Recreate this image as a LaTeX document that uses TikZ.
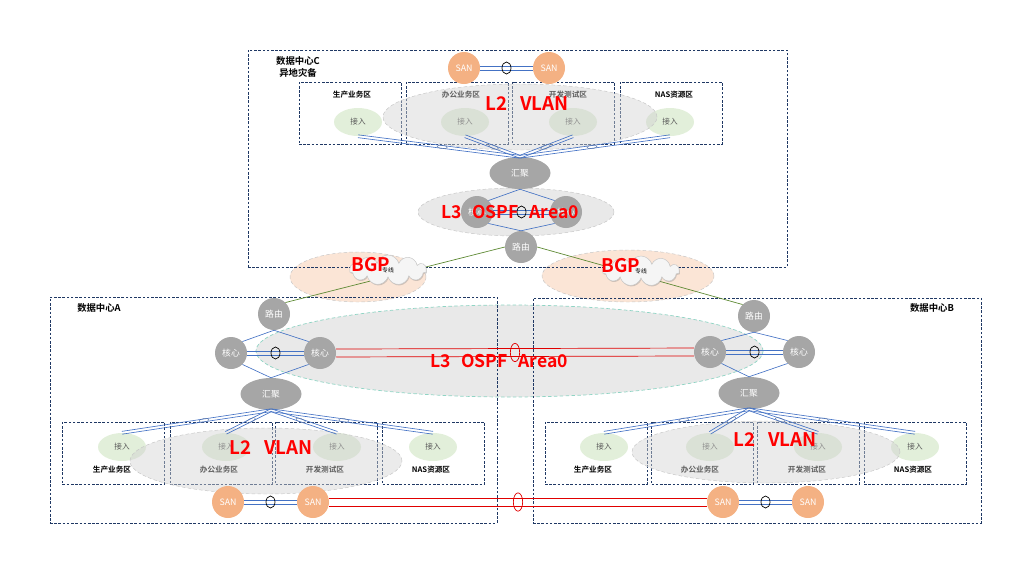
\documentclass[tikz,border=0pt]{standalone}
\usepackage{fontspec}
\setmainfont{Noto Sans CJK SC}[BoldFont={Noto Sans CJK SC Bold}]
\usepackage{xcolor}
\usepackage{tikz}
\usetikzlibrary{shapes.geometric, shapes.symbols, shadows, calc, positioning}

\definecolor{netgray}{HTML}{A6A6A6}
\definecolor{sanorange}{HTML}{F4B183}
\definecolor{accgreen}{HTML}{E2EFDA}
\definecolor{linkblue}{HTML}{4472C4}
\definecolor{boxnavy}{HTML}{1F3864}
\definecolor{bgpfill}{HTML}{FBE5D6}
\definecolor{bgpgreen}{HTML}{5E8A34}
\definecolor{ospfteal}{HTML}{8FD4C4}
\definecolor{wanred}{HTML}{E00000}
\definecolor{acctext}{HTML}{595959}

\tikzset{
    dcbox/.style={
        rectangle,
        draw=boxnavy,
        line width=0.6pt,
        dash pattern=on 2.2pt off 1.4pt,
        inner sep=0pt
    },
    zonebox/.style={
        dcbox,
        minimum width=3.06cm,
        minimum height=1.86cm
    },
    dctitle/.style={
        font=\bfseries\fontsize{8}{10}\selectfont,
        inner sep=0pt
    },
    zonelabel/.style={
        font=\bfseries\fontsize{6.5}{7}\selectfont,
        inner sep=0pt
    },
    netnode/.style={
        circle,
        fill=netgray,
        minimum size=0.96cm,
        inner sep=0pt,
        text=white,
        font=\fontsize{7.5}{8}\selectfont
    },
    aggnode/.style={
        netnode,
        ellipse,
        minimum width=1.83cm,
        minimum height=0.96cm
    },
    sannode/.style={
        netnode,
        fill=sanorange
    },
    accnode/.style={
        ellipse,
        fill=accgreen,
        minimum width=1.44cm,
        minimum height=0.84cm,
        inner sep=0pt,
        text=acctext,
        font=\fontsize{6.5}{7}\selectfont
    },
    bgparea/.style={
        ellipse,
        fill=bgpfill,
        draw=gray!45,
        dash pattern=on 3pt off 2pt,
        inner sep=0pt
    },
    ospfarea/.style={
        ellipse,
        fill=gray!17,
        draw=ospfteal,
        line width=0.6pt,
        dash pattern=on 3pt off 2pt,
        inner sep=0pt
    },
    grayarea/.style={
        ellipse,
        fill=gray!17,
        draw=gray!45,
        dash pattern=on 3pt off 2pt,
        inner sep=0pt
    },
    l2area/.style={
        grayarea,
        fill=gray!35,
        fill opacity=0.45
    },
    wancloud/.style={
        cloud,
        cloud puffs=11,
        cloud ignores aspect,
        fill=gray!8,
        draw=gray!45,
        minimum width=2.31cm,
        minimum height=0.9cm,
        inner sep=0pt,
        drop shadow={shadow xshift=0.6pt, shadow yshift=-0.9pt, opacity=0.35},
        font=\fontsize{5}{5}\selectfont
    },
    link/.style={
        draw=linkblue,
        line width=0.55pt
    },
    wan/.style={
        draw=wanred,
        line width=0.6pt
    },
    bgpline/.style={
        draw=bgpgreen,
        line width=0.6pt
    },
    lag/.style={
        ellipse,
        draw=linkblue!60!gray,
        line width=0.35pt,
        minimum width=0.3cm,
        minimum height=0.11cm,
        inner sep=0pt
    },
    lagblack/.style={
        ellipse,
        draw=black,
        line width=0.6pt,
        minimum width=0.27cm,
        minimum height=0.36cm,
        inner sep=0pt
    },
    lagred/.style={
        ellipse,
        draw=wanred,
        line width=0.6pt,
        minimum width=0.28cm,
        minimum height=0.55cm,
        inner sep=0pt
    },
    areatext/.style={
        text=red,
        font=\bfseries\fontsize{16}{16}\selectfont,
        inner sep=0pt
    },
    ospftext/.style={
        areatext,
        font=\bfseries\fontsize{15}{15}\selectfont
    }
}

% two parallel wires between two anchors
\newcommand{\duallink}[4]{%
    \draw[#1] ($(#3)!#2!90:(#4)$) -- ($(#4)!#2!-90:(#3)$);
    \draw[#1] ($(#3)!#2!-90:(#4)$) -- ($(#4)!#2!90:(#3)$);
}

\begin{document}
\begin{tikzpicture}[x=0.03cm, y=-0.03cm]
\useasboundingbox (0,0) rectangle (1031,574);

% BGP and OSPF areas
\node[bgparea, minimum width=4.08cm, minimum height=1.5cm] (bgpL) at (358,277) {};
\node[bgparea, minimum width=5.16cm, minimum height=1.56cm] (bgpR) at (628,276) {};
\node[ospfarea, minimum width=15.21cm, minimum height=2.76cm] (ospfAB) at (509.5,351) {};
\node[grayarea, minimum width=5.88cm, minimum height=1.44cm] (ospfC) at (516,212) {};

% Data center frames
\node[dcbox, minimum width=16.17cm, minimum height=6.51cm] (dcC) at (517.5,158.5) {};
\node[dcbox, minimum width=13.41cm, minimum height=6.78cm] (dcA) at (273.5,410) {};
\node[dcbox, minimum width=13.44cm, minimum height=6.75cm] (dcB) at (757,410.5) {};

\node[dctitle, align=center] (titleC) at (298,67) {数据中心C\\异地灾备};
\node[dctitle] (titleA) at (99,308) {数据中心A};
\node[dctitle] (titleB) at (932,308) {数据中心B};

% Zones in C
\node[zonebox] (zoneC1) at (350,113) {};
\node[zonebox] (zoneC2) at (457,113) {};
\node[zonebox] (zoneC3) at (563.5,113) {};
\node[zonebox] (zoneC4) at (671,113) {};
\node[zonelabel] (labC1) at (352,95) {生产业务区};
\node[zonelabel] (labC2) at (461,95) {办公业务区};
\node[zonelabel] (labC3) at (568,95) {开发测试区};
\node[zonelabel] (labC4) at (674,95) {NAS资源区};
\node[accnode] (accC1) at (358,122) {接入};
\node[accnode] (accC2) at (465,122) {接入};
\node[accnode] (accC3) at (573,122) {接入};
\node[accnode] (accC4) at (670,122) {接入};

% Zones in A
\node[zonebox] (zoneA1) at (113.5,453) {};
\node[zonebox] (zoneA2) at (221,453) {};
\node[zonebox] (zoneA3) at (326.5,453) {};
\node[zonebox] (zoneA4) at (433.5,453) {};
\node[zonelabel] (labA1) at (112,470) {生产业务区};
\node[zonelabel] (labA2) at (219,470) {办公业务区};
\node[zonelabel] (labA3) at (325,470) {开发测试区};
\node[zonelabel] (labA4) at (431,470) {NAS资源区};
\node[accnode] (accA1) at (122,447) {接入};
\node[accnode] (accA2) at (226,447) {接入};
\node[accnode] (accA3) at (337,447) {接入};
\node[accnode] (accA4) at (433,447) {接入};

% Zones in B
\node[zonebox] (zoneB1) at (596,453) {};
\node[zonebox] (zoneB2) at (702.5,453) {};
\node[zonebox] (zoneB3) at (808.5,453) {};
\node[zonebox] (zoneB4) at (915,453) {};
\node[zonelabel] (labB1) at (593,470) {生产业务区};
\node[zonelabel] (labB2) at (700,470) {办公业务区};
\node[zonelabel] (labB3) at (807,470) {开发测试区};
\node[zonelabel] (labB4) at (913,470) {NAS资源区};
\node[accnode] (accB1) at (604,447) {接入};
\node[accnode] (accB2) at (710,447) {接入};
\node[accnode] (accB3) at (818,447) {接入};
\node[accnode] (accB4) at (915,447) {接入};

% L2 areas
\node[l2area, minimum width=8.22cm, minimum height=1.98cm] (l2C) at (520,117) {};
\node[l2area, minimum width=8.16cm, minimum height=1.98cm] (l2A) at (266,461) {};
\node[l2area, minimum width=8.04cm, minimum height=1.86cm] (l2B) at (766,452) {};

% Network nodes
\node[sannode] (sanC1) at (464,68) {SAN};
\node[sannode] (sanC2) at (549,68) {SAN};
\node[aggnode] (aggC) at (520,173) {汇聚};
\node[netnode] (coreC1) at (477,212) {核心};
\node[netnode] (coreC2) at (566,212) {核心};
\node[netnode] (rtrC) at (521,247) {路由};

\node[netnode] (rtrA) at (274,314) {路由};
\node[netnode] (coreA1) at (231,353) {核心};
\node[netnode] (coreA2) at (320,353) {核心};
\node[aggnode] (aggA) at (271,394) {汇聚};
\node[sannode] (sanA1) at (228,502) {SAN};
\node[sannode] (sanA2) at (313,502) {SAN};

\node[netnode] (rtrB) at (754,316) {路由};
\node[netnode] (coreB1) at (710,352) {核心};
\node[netnode] (coreB2) at (799,352) {核心};
\node[aggnode] (aggB) at (749,393) {汇聚};
\node[sannode] (sanB1) at (723,502) {SAN};
\node[sannode] (sanB2) at (808,502) {SAN};

% BGP lines and clouds
\draw[bgpline] (rtrA.north east) -- (rtrC.west);
\draw[bgpline] (rtrC.east) -- (rtrB.north west);
\node[wancloud] (cloudL) at (388,270) {专线};
\node[wancloud] (cloudR) at (641,271) {专线};

% Access uplinks C
\duallink{link}{1.2pt}{aggC.north}{accC1.south}
\duallink{link}{1.2pt}{aggC.north}{accC2.south}
\duallink{link}{1.2pt}{aggC.north}{accC3.south}
\duallink{link}{1.2pt}{aggC.north}{accC4.south}
\path (aggC.north) -- node[lag, sloped, pos=0.48] (lagC1) {} (accC1.south);
\path (aggC.north) -- node[lag, sloped, pos=0.48] (lagC2) {} (accC2.south);
\path (aggC.north) -- node[lag, sloped, pos=0.48] (lagC3) {} (accC3.south);
\path (aggC.north) -- node[lag, sloped, pos=0.48] (lagC4) {} (accC4.south);

% Access uplinks A
\duallink{link}{1.2pt}{aggA.south}{accA1.north}
\duallink{link}{1.2pt}{aggA.south}{accA2.north}
\duallink{link}{1.2pt}{aggA.south}{accA3.north}
\duallink{link}{1.2pt}{aggA.south}{accA4.north}
\path (aggA.south) -- node[lag, sloped, pos=0.45] (lagA1) {} (accA1.north);
\path (aggA.south) -- node[lag, sloped, pos=0.45] (lagA2) {} (accA2.north);
\path (aggA.south) -- node[lag, sloped, pos=0.45] (lagA3) {} (accA3.north);
\path (aggA.south) -- node[lag, sloped, pos=0.45] (lagA4) {} (accA4.north);

% Access uplinks B
\duallink{link}{1.2pt}{aggB.south}{accB1.north}
\duallink{link}{1.2pt}{aggB.south}{accB2.north}
\duallink{link}{1.2pt}{aggB.south}{accB3.north}
\duallink{link}{1.2pt}{aggB.south}{accB4.north}
\path (aggB.south) -- node[lag, sloped, pos=0.45] (lagB1) {} (accB1.north);
\path (aggB.south) -- node[lag, sloped, pos=0.45] (lagB2) {} (accB2.north);
\path (aggB.south) -- node[lag, sloped, pos=0.45] (lagB3) {} (accB3.north);
\path (aggB.south) -- node[lag, sloped, pos=0.45] (lagB4) {} (accB4.north);

% Core links C
\draw[link] (aggC.south) -- (coreC1.north east);
\draw[link] (aggC.south) -- (coreC2.north west);
\draw[link] (rtrC.north) -- (coreC1.south east);
\draw[link] (rtrC.north) -- (coreC2.south west);
\duallink{link}{1.7pt}{coreC1.east}{coreC2.west}
\node[lagblack] (lagCcore) at ($(coreC1.east)!0.5!(coreC2.west)$) {};
\duallink{link}{1.7pt}{sanC1.east}{sanC2.west}
\node[lagblack] (lagCsan) at ($(sanC1.east)!0.5!(sanC2.west)$) {};

% Core links A
\draw[link] (rtrA.south) -- (coreA1.north east);
\draw[link] (rtrA.south) -- (coreA2.north west);
\draw[link] (aggA.north) -- (coreA1.south east);
\draw[link] (aggA.north) -- (coreA2.south west);
\duallink{link}{1.7pt}{coreA1.east}{coreA2.west}
\node[lagblack] (lagAcore) at ($(coreA1.east)!0.5!(coreA2.west)$) {};
\duallink{link}{1.7pt}{sanA1.east}{sanA2.west}
\node[lagblack] (lagAsan) at ($(sanA1.east)!0.5!(sanA2.west)$) {};

% Core links B
\draw[link] (rtrB.south) -- (coreB1.north east);
\draw[link] (rtrB.south) -- (coreB2.north west);
\draw[link] (aggB.north) -- (coreB1.south east);
\draw[link] (aggB.north) -- (coreB2.south west);
\duallink{link}{1.7pt}{coreB1.east}{coreB2.west}
\node[lagblack] (lagBcore) at ($(coreB1.east)!0.5!(coreB2.west)$) {};
\duallink{link}{1.7pt}{sanB1.east}{sanB2.west}
\node[lagblack] (lagBsan) at ($(sanB1.east)!0.5!(sanB2.west)$) {};

% A-B interconnect
\duallink{wan}{3.4pt}{coreA2.east}{coreB1.west}
\node[lagred] (lagWanCore) at ($(coreA2.east)!0.5!(coreB1.west)$) {};
\duallink{wan}{3.4pt}{sanA2.east}{sanB1.west}
\node[lagred] (lagWanSan) at ($(sanA2.east)!0.5!(sanB1.west)$) {};

% Area labels
\node[areatext] (txtL2C) at (527,104) {L2\hspace{0.7em}VLAN};
\node[ospftext] (txtL3C) at (510,212) {L3\hspace{0.6em}OSPF\hspace{0.6em}Area0};
\node[ospftext] (txtL3AB) at (499,361) {L3\hspace{0.6em}OSPF\hspace{0.6em}Area0};
\node[areatext] (txtL2A) at (271,448) {L2\hspace{0.7em}VLAN};
\node[areatext] (txtL2B) at (775,440) {L2\hspace{0.7em}VLAN};
\node[areatext] (txtBgpL) at (371,265) {BGP};
\node[areatext] (txtBgpR) at (621,266) {BGP};

\end{tikzpicture}
\end{document}
